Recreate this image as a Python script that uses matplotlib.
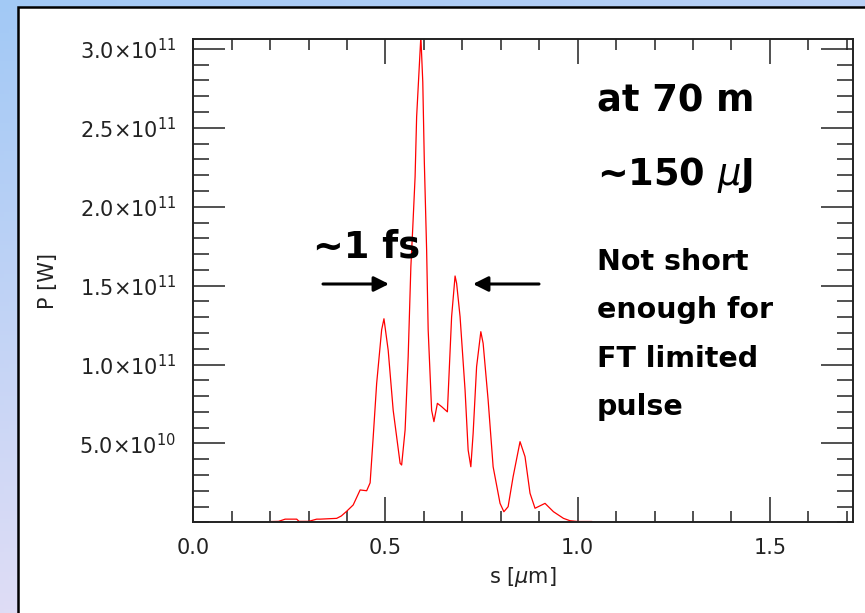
import matplotlib
matplotlib.use("Agg")
import matplotlib.pyplot as plt
import numpy as np
from matplotlib.patches import Rectangle
import matplotlib.ticker as ticker

# pulse power profile
s_um = [0.204, 0.222, 0.239, 0.269, 0.275, 0.300, 0.321, 0.330, 0.373, 0.385,
        0.399, 0.416, 0.434, 0.451, 0.460, 0.468, 0.477, 0.490, 0.496, 0.507,
        0.520, 0.538, 0.542, 0.551, 0.559, 0.566, 0.571, 0.577, 0.581, 0.592,
        0.597, 0.601, 0.607, 0.611, 0.620, 0.626, 0.635, 0.646, 0.661, 0.672,
        0.681, 0.685, 0.694, 0.707, 0.715, 0.722, 0.728, 0.737, 0.748, 0.754,
        0.767, 0.780, 0.798, 0.808, 0.819, 0.832, 0.850, 0.863, 0.876, 0.889,
        0.915, 0.937, 0.963, 0.980, 1.000, 1.036]
P_1e10 = [0.05, 0.06, 0.2, 0.2, 0.06, 0.06, 0.2, 0.2, 0.25, 0.4,
          0.7, 1.1, 2.05, 2.0, 2.5, 5.4, 8.8, 12.2, 12.9, 10.9,
          7.1, 3.74, 3.63, 5.85, 10.5, 16.2, 18.7, 21.9, 25.7, 30.8,
          27.9, 22.85, 17.26, 12.2, 7.1, 6.38, 7.54, 7.33, 7.0, 13.03,
          15.61, 15.15, 13.03, 8.38, 4.58, 3.52, 5.64, 9.86, 12.08, 11.34,
          7.75, 3.52, 1.2, 0.67, 0.99, 2.89, 5.11, 4.16, 1.84, 0.89,
          1.2, 0.67, 0.25, 0.1, 0.05, 0.05]
P = np.array(P_1e10) * 1e10

yticks = [5e10, 1e11, 1.5e11, 2e11, 2.5e11, 3e11]
ytick_labels = ["5.0×10$^{10}$", "1.0×10$^{11}$", "1.5×10$^{11}$",
                "2.0×10$^{11}$", "2.5×10$^{11}$", "3.0×10$^{11}$"]
xticks = [0.0, 0.5, 1.0, 1.5]
xtick_labels = ["0.0", "0.5", "1.0", "1.5"]

W, H = 865, 613
fig = plt.figure(figsize=(W / 100, H / 100), dpi=100)

# slide background: blue at the top left fading to lavender at the bottom
bg = fig.add_axes([0, 0, 1, 1], zorder=-10)
gx, gy = np.meshgrid(np.linspace(0, 1, 200), np.linspace(0, 1, 150))
t = np.clip(0.3 * gx + 0.8 * gy, 0, 1)[..., None]
c0 = np.array([162, 201, 245]) / 255
c1 = np.array([238, 226, 246]) / 255
bg.imshow(c0 * (1 - t) + c1 * t, aspect="auto", extent=[0, 1, 0, 1])
bg.axis("off")

# white panel with black frame
fig.patches.append(Rectangle((18 / W, -0.1), 1.2, 1 - 7 / H + 0.1,
                             transform=fig.transFigure, facecolor="white",
                             edgecolor="black", linewidth=1.8, zorder=-5))

left, right, top, bottom = 193.3, 853.3, 39, 522.3
ax = fig.add_axes([left / W, 1 - bottom / H, (right - left) / W, (bottom - top) / H])
ax.set_facecolor("white")

ax.plot(s_um, P, color="red", linewidth=0.9)
ax.set_xlim(0, 1.717)
ax.set_ylim(0, 3.063e11)

ax.set_xticks(xticks)
ax.set_xticklabels(xtick_labels)
ax.xaxis.set_minor_locator(ticker.MultipleLocator(0.1))
ax.set_yticks(yticks)
ax.set_yticklabels(ytick_labels)
ax.yaxis.set_minor_locator(ticker.MultipleLocator(1e10))

ax.tick_params(axis="both", which="both", direction="in", top=True, right=True,
               colors="#222222", labelcolor="#222222", labelsize=15)
ax.tick_params(axis="x", which="major", length=18, width=1.1, pad=11)
ax.tick_params(axis="x", which="minor", length=8, width=1.1)
ax.tick_params(axis="y", which="major", length=23, width=1.1, pad=12)
ax.tick_params(axis="y", which="minor", length=11.5, width=1.1)
for sp in ax.spines.values():
    sp.set_linewidth(1.4)
    sp.set_color("#222222")

ax.set_xlabel(r"s [$\mu$m]", fontsize=15, color="#222222")
ax.xaxis.set_label_coords(0.5, -0.088)
ax.set_ylabel("P [W]", fontsize=15, color="#222222")
ax.yaxis.set_label_coords(-0.205, 0.5)

# annotations
def ax_xy(px, py):
    return ((px - left) / (right - left), (bottom - py) / (bottom - top))

bold = dict(fontweight="bold", color="black", va="baseline", ha="left",
            transform=ax.transAxes)
ax.text(*ax_xy(597, 111.7), "at 70 m", fontsize=26.5, **bold)
ax.text(*ax_xy(597, 185), r"~150 $\mu$J", fontsize=26.5, **bold)
ax.text(*ax_xy(313, 257.7), "~1 fs", fontsize=26.5, **bold)
note = ["Not short", "enough for", "FT limited", "pulse"]
for i, line in enumerate(note):
    ax.text(*ax_xy(597, 270 + 48.3 * i), line, fontsize=20.5, **bold)

arrow = dict(arrowstyle="-|>,head_length=0.9,head_width=0.45", color="black",
             lw=2.2, shrinkA=0, shrinkB=0)
ax.annotate("", xy=ax_xy(389, 284), xytext=ax_xy(323, 284),
            xycoords="axes fraction", textcoords="axes fraction", arrowprops=arrow)
ax.annotate("", xy=ax_xy(473, 284), xytext=ax_xy(539, 284),
            xycoords="axes fraction", textcoords="axes fraction", arrowprops=arrow)

plt.savefig("out.png", dpi=100)
